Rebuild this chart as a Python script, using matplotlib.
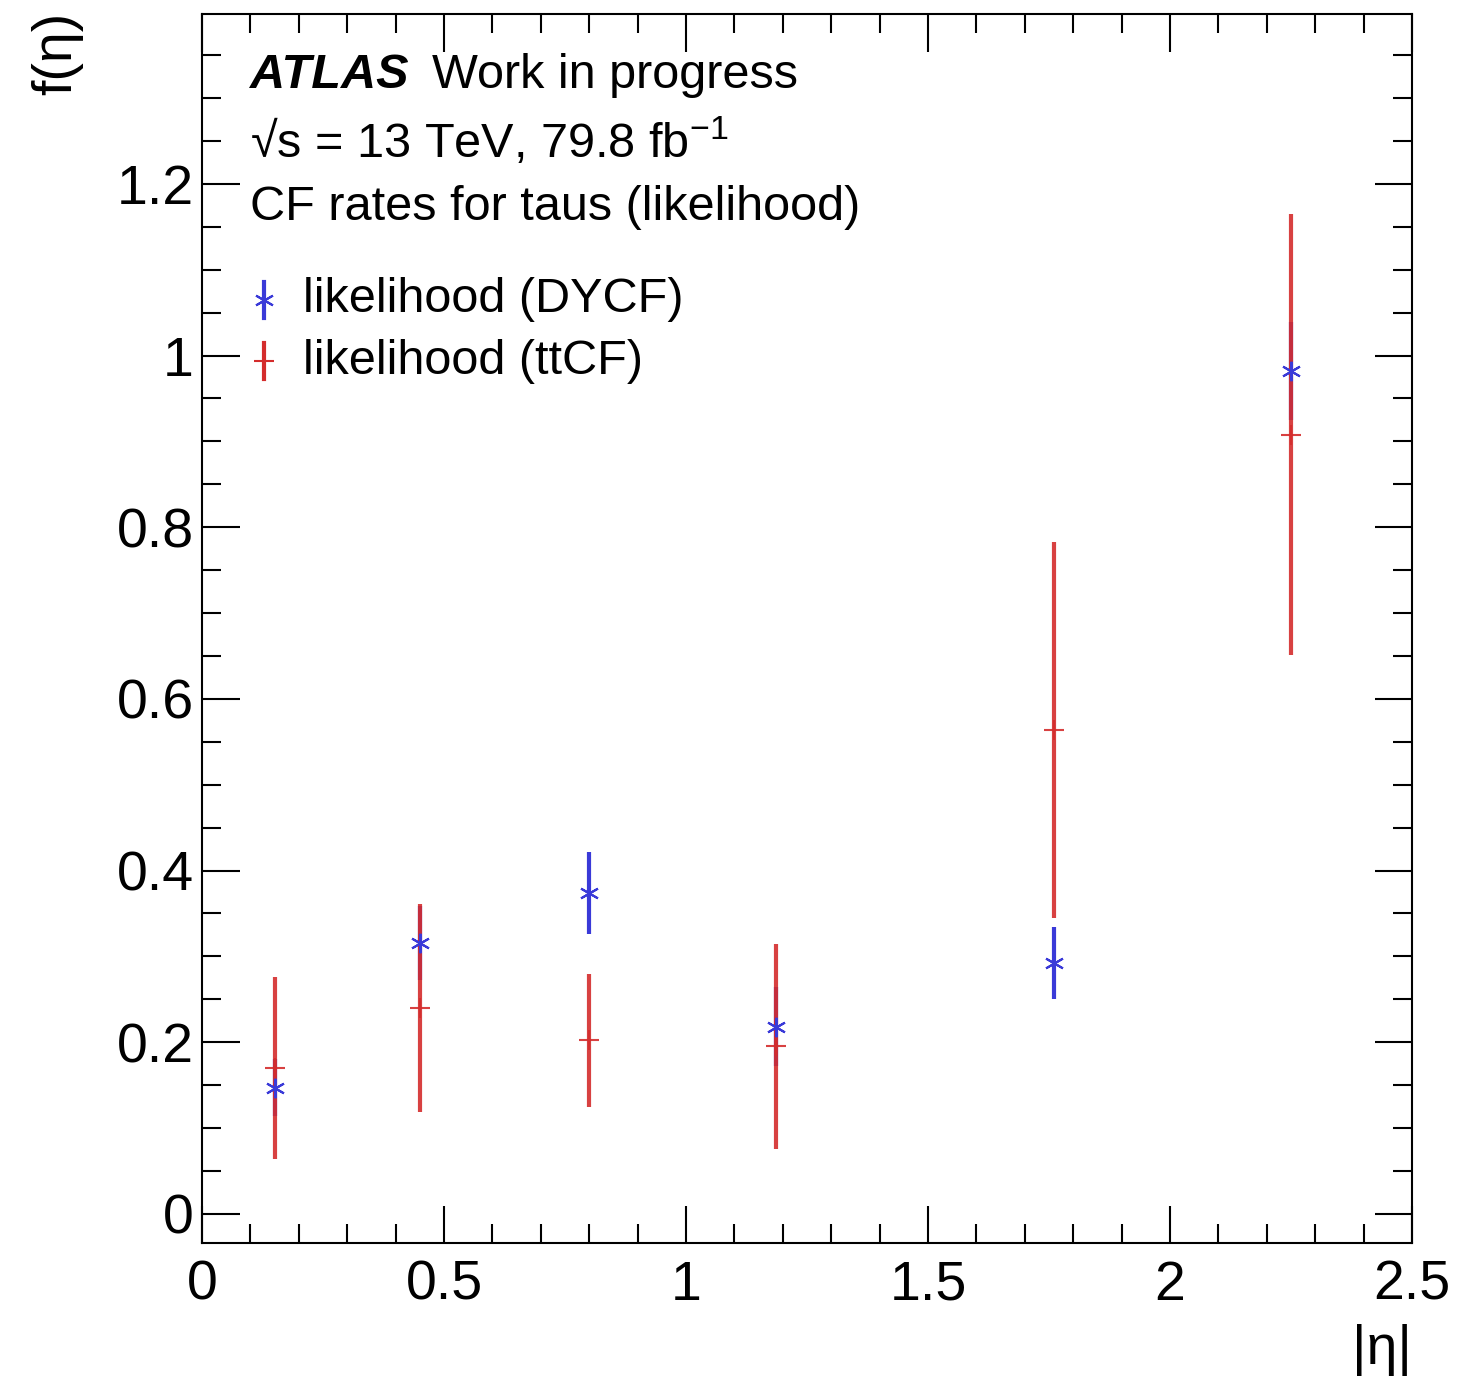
import numpy as np
import matplotlib
matplotlib.use("Agg")
from matplotlib import pyplot as plt
from matplotlib.ticker import MultipleLocator
from matplotlib.lines import Line2D

plt.rcParams['font.family'] = ['Liberation Sans', 'DejaVu Sans']
plt.rcParams['mathtext.fontset'] = 'custom'
plt.rcParams['mathtext.rm'] = 'Liberation Sans'
plt.rcParams['mathtext.it'] = 'Liberation Sans:italic'

# |eta| bin centres
eta = [0.15, 0.45, 0.80, 1.185, 1.76, 2.25]

# DY charge-flip rates
dy_val = [0.147, 0.316, 0.374, 0.218, 0.292, 0.982]
dy_err = [0.033, 0.043, 0.048, 0.046, 0.042, 0.057]

# ttbar charge-flip rates
tt_val = [0.170, 0.240, 0.202, 0.195, 0.564, 0.908]
tt_err = [0.106, 0.121, 0.078, 0.119, 0.219, 0.257]

blue = '#3a3ad8'
red = '#d42c2c'

fig = plt.figure(figsize=(14.65, 13.78), dpi=100)
ax = fig.add_axes([202/1465, 1 - 1243/1378, (1412-202)/1465, (1243-14)/1378])

ax.errorbar(eta, dy_val, yerr=dy_err, fmt='none', ecolor=blue,
            elinewidth=3, capsize=0, zorder=2)
ax.errorbar(eta, tt_val, yerr=tt_err, fmt='+', color=red, ecolor=red,
            elinewidth=3, markersize=14, markeredgewidth=1.5, capsize=0,
            alpha=0.9, zorder=3)
ax.plot(eta, dy_val, ls='none', marker=(6, 2, 0), color=blue,
        markersize=14, markeredgewidth=1.5, zorder=4)

ax.set_xlim(0, 2.5)
ax.set_ylim(-0.034, 1.398)

ax.xaxis.set_major_locator(MultipleLocator(0.5))
ax.xaxis.set_minor_locator(MultipleLocator(0.1))
ax.yaxis.set_major_locator(MultipleLocator(0.2))
ax.yaxis.set_minor_locator(MultipleLocator(0.05))
ax.xaxis.set_major_formatter(lambda v, p: f'{v:g}')
ax.yaxis.set_major_formatter(lambda v, p: f'{v:g}')

ax.tick_params(which='both', direction='in', top=True, right=True, width=1.5)
ax.tick_params(which='major', length=27, labelsize=40)
ax.tick_params(axis='x', which='major', pad=12)
ax.tick_params(axis='y', which='major', pad=6)
ax.tick_params(which='minor', length=14)
for s in ax.spines.values():
    s.set_linewidth(1.5)

fig.text(57/1465, 1 - 12/1378, 'f(η)', rotation=90, ha='center', va='top', fontsize=40)
fig.text(1412/1465, 1 - 1350/1378, '|η|', ha='right', va='center', fontsize=40)

# labels
x0 = 250 / 1465
fs = 35
fig.text(x0, 1 - 75/1378, 'ATLAS', fontsize=fs, fontweight='bold', style='italic',
         ha='left', va='center')
fig.text(432/1465, 1 - 75/1378, 'Work in progress', fontsize=fs, ha='left', va='center')
fig.text(x0, 1 - 142/1378, '√s = 13 TeV, 79.8 fb$^{-1}$', fontsize=fs, ha='left', va='center')
fig.text(x0, 1 - 208/1378, 'CF rates for taus (likelihood)', fontsize=fs, ha='left', va='center')

# legend drawn by hand in figure coords
hx = 264 / 1465
for yy, col, mk, lab in [(300, blue, (6, 2, 0), 'likelihood (DYCF)'),
                         (361, red, '+', 'likelihood (ttCF)')]:
    yf = 1 - yy/1378
    fig.add_artist(Line2D([hx, hx], [yf - 18/1378, yf + 18/1378], color=col, lw=3))
    fig.add_artist(Line2D([hx], [yf], marker=mk, color=col, markersize=14,
                          markeredgewidth=1.5, ls='none'))
    fig.text(303/1465, yf, lab, fontsize=fs, ha='left', va='center')

fig.savefig('out.png', dpi=100)
